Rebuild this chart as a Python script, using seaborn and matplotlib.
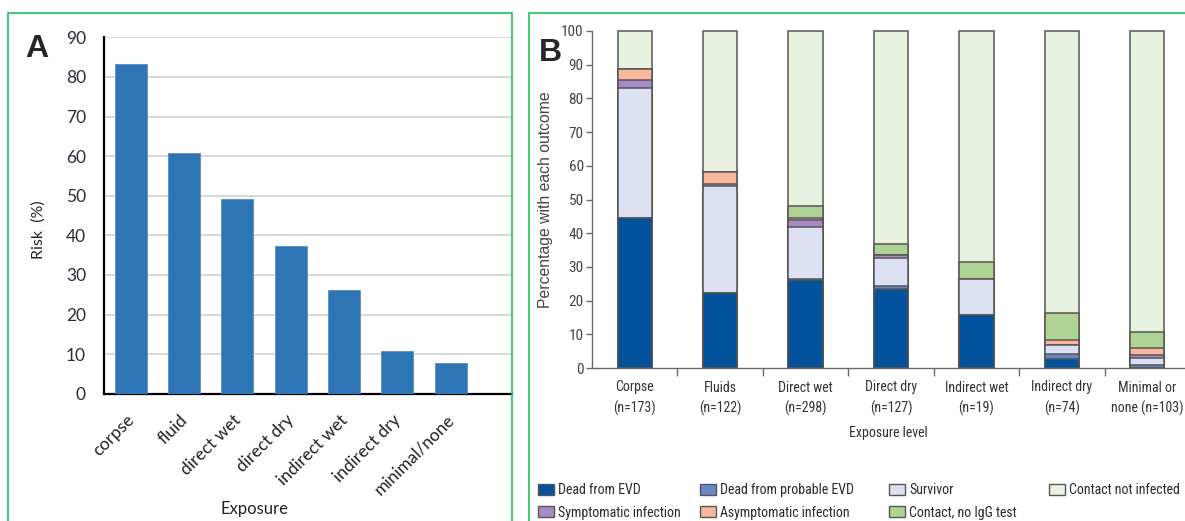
import matplotlib
matplotlib.use("Agg")
import matplotlib.pyplot as plt
from matplotlib import font_manager
from matplotlib.font_manager import FontProperties
from matplotlib.patches import Rectangle, Patch
from matplotlib.ticker import FixedLocator
from matplotlib.transforms import ScaledTranslation
import seaborn as sns
import pandas as pd

# ---------------- data ----------------
# Panel A: risk of infection by exposure type
risk_categories = ["corpse", "fluid", "direct wet", "direct dry",
                   "indirect wet", "indirect dry", "minimal/none"]
risk_values = [83.2, 60.7, 49.1, 37.4, 26.2, 10.7, 7.7]

# Panel B: outcome distribution (%) by exposure level
exposure_levels = ["Corpse\n(n=173)", "Fluids\n(n=122)", "Direct wet\n(n=298)",
                   "Direct dry\n(n=127)", "Indirect wet\n(n=19)",
                   "Indirect dry\n(n=74)", "Minimal or\nnone (n=103)"]
dead_evd        = [44.4, 22.4, 26.0, 23.4, 15.8, 2.7, 0.0]
dead_probable   = [0.0, 0.0, 0.4, 0.9, 0.0, 1.4, 1.0]
survivor        = [38.8, 31.5, 15.5, 8.3, 10.5, 2.7, 1.9]
symptomatic     = [2.4, 0.8, 2.0, 0.8, 0.0, 0.0, 1.0]
asymptomatic    = [3.2, 3.4, 0.5, 0.0, 0.0, 1.4, 1.9]
contact_no_igg  = [0.0, 0.0, 3.6, 3.5, 5.3, 8.1, 4.9]
not_infected    = [11.2, 41.9, 52.0, 63.1, 68.4, 83.7, 89.3]

outcome_names = ["Dead from EVD", "Dead from probable EVD", "Survivor",
                 "Symptomatic infection", "Asymptomatic infection",
                 "Contact, no IgG test", "Contact not infected"]
outcome_values = [dead_evd, dead_probable, survivor, symptomatic,
                  asymptomatic, contact_no_igg, not_infected]
outcome_colors = ["#02539c", "#6a86c4", "#dde0f0", "#a88bc6",
                  "#f8b89b", "#afd394", "#e9f2e1"]

# ---------------- fonts ----------------
sns.set_theme(style="white")
plt.rcParams["font.family"] = ["Lato", "DejaVu Sans"]


def find_condensed():
    """Pick an installed condensed/narrow sans face, if there is one."""
    prefs = ["Liberation Sans Narrow", "Roboto Condensed", "Open Sans Condensed",
             "Open Sans", "Noto Sans", "DejaVu Sans", "Roboto", "Lato", "Inter"]
    found = {}
    for f in font_manager.fontManager.ttflist:
        st = f.stretch
        if isinstance(st, str):
            cond = ("condensed" in st and "semi" not in st) or st == "narrow"
        else:
            cond = st <= 400
        name_cond = "Narrow" in f.name or "Condensed" in f.name
        if not (cond or name_cond):
            continue
        if f.style != "normal":
            continue
        w = f.weight
        if isinstance(w, str):
            w = {"normal": 400, "regular": 400, "book": 400}.get(w, 0)
        if w != 400:
            continue
        found.setdefault(f.name, f.fname)
    for p in prefs:
        if p in found:
            return found[p], True
    if found:
        return next(iter(found.values())), True
    return None, False


cond_file, have_cond = find_condensed()


def narrow_font(size):
    if have_cond:
        return FontProperties(fname=cond_file, size=size)
    return FontProperties(family=["Roboto", "DejaVu Sans"], size=size * 0.86)


fig = plt.figure(figsize=(11.85, 5.21), dpi=100)
W, H = 1185, 521


def axes_px(left, top, right, bottom):
    return fig.add_axes([left / W, 1 - bottom / H, (right - left) / W, (bottom - top) / H])


# ---------------- panel A ----------------
axA = axes_px(104, 37.3, 512, 393.7)
dfA = pd.DataFrame({"exposure": risk_categories, "risk": risk_values})
sns.barplot(data=dfA, x="exposure", y="risk", color="#2e75b6", saturation=1,
            width=0.6, ax=axA, zorder=3, edgecolor="#5b8fc9", linewidth=0.6)
axA.set_xlim(-0.5, 7.15)
axA.set_ylim(0, 90)
axA.set_yticks(range(0, 91, 10))
axA.yaxis.grid(True, color="#d9d9d9", linewidth=1.4, zorder=0)
axA.xaxis.grid(False)
axA.set_axisbelow(True)
for s in ["top", "right"]:
    axA.spines[s].set_visible(False)
for s in ["left", "bottom"]:
    axA.spines[s].set_color("black")
    axA.spines[s].set_linewidth(1.6)
axA.tick_params(axis="y", length=0, pad=13, labelsize=12.5, labelcolor="#2b2b3a")
axA.tick_params(axis="x", length=0, pad=13, labelsize=12.5, labelcolor="#222222")
axA.set_xticks(range(len(risk_categories)))
axA.set_xticklabels(risk_categories, rotation=45, ha="right", va="top",
                    rotation_mode="anchor")
shift = ScaledTranslation(-5 / 100, 0, fig.dpi_scale_trans)
for lab in axA.get_xticklabels():
    lab.set_transform(lab.get_transform() + shift)
axA.set_xlabel("Exposure", fontsize=12, color="#222222")
axA.xaxis.set_label_coords((255 - 104) / 408, -(501 - 393.7) / 356.4)
axA.set_ylabel("Risk  (%)", fontsize=11.5, color="#222222")
axA.yaxis.set_label_coords(-(104 - 46) / 408, (393.7 - 230) / 356.4)
fig.text(37 / W, 1 - 49 / H, "A", fontsize=23, fontweight="bold",
         family=["Liberation Sans", "DejaVu Sans"], ha="center", va="center")

# ---------------- panel B ----------------
axB = axes_px(592, 31, 1190, 368)
cumulative = []
running = [0.0] * len(exposure_levels)
for vals in outcome_values:
    running = [r + v for r, v in zip(running, vals)]
    cumulative.append(list(running))

# stacked bars: draw the tallest cumulative layer first, then overlay lower ones
for name, cum, color in reversed(list(zip(outcome_names, cumulative, outcome_colors))):
    dfB = pd.DataFrame({"level": exposure_levels, "pct": cum})
    sns.barplot(data=dfB, x="level", y="pct", color=color, saturation=1,
                width=0.4, edgecolor="#555555", linewidth=1.1, ax=axB)
for p in axB.patches:
    p.set_clip_on(False)

axB.set_xlim(-0.5, 6.5)
axB.set_ylim(0, 100)
axB.set_yticks(range(0, 101, 10))
axB.grid(False)
for s in ["top", "right"]:
    axB.spines[s].set_visible(False)
for s in ["left", "bottom"]:
    axB.spines[s].set_color("#6a6a6a")
    axB.spines[s].set_linewidth(1.0)
axB.tick_params(axis="y", direction="out", length=4, width=1.0, color="#6a6a6a",
                pad=2, labelcolor="#444444", left=True)
axB.tick_params(axis="x", which="major", length=0, pad=9, labelcolor="#333333")
axB.xaxis.set_minor_locator(FixedLocator([i + 0.5 for i in range(len(exposure_levels) - 1)]))
axB.tick_params(axis="x", which="minor", direction="out", length=6, width=1.0,
                color="#6a6a6a", bottom=True)
axB.set_xticks(range(len(exposure_levels)))
axB.set_xticklabels(exposure_levels, linespacing=1.5)
for lab in axB.get_xticklabels():
    lab.set_fontproperties(narrow_font(10))
for lab in axB.get_yticklabels():
    lab.set_fontproperties(narrow_font(11))
axB.set_xlabel("Exposure level", color="#333333", fontproperties=narrow_font(10))
axB.xaxis.set_label_coords((888 - 592) / 598, -(426 - 368) / 337)
axB.set_ylabel("Percentage with each outcome", fontsize=11.3, color="#444444",
               family=["Liberation Sans", "DejaVu Sans"])
axB.yaxis.set_label_coords(-(592 - 553) / 598, 0.5)
fig.text(550 / W, 1 - 53 / H, "B", fontsize=23, fontweight="bold",
         family=["Liberation Sans", "DejaVu Sans"], ha="center", va="center")

# legend: four columns placed at fixed horizontal positions, two rows
legend_columns = [[0, 3], [1, 4], [2, 5], [6]]
column_x = [538, 700, 889, 1049]
for idxs, cx in zip(legend_columns, column_x):
    handles = [Patch(facecolor=outcome_colors[i], edgecolor="#555555", linewidth=1.0)
               for i in idxs]
    labels = [outcome_names[i] for i in idxs]
    fig.legend(handles, labels, loc="upper left",
               bbox_to_anchor=(cx / W, 1 - 483 / H), frameon=False,
               prop=narrow_font(10), labelcolor="#2a2a2a",
               handlelength=1.15, handleheight=0.86, handletextpad=0.3,
               labelspacing=0.62, borderpad=0, borderaxespad=0)

# green panel frames
green = "#22c25a"
fig.patches.append(Rectangle((8 / W, -0.05), (512 - 8) / W, 1.05 - 12.7 / H,
                             transform=fig.transFigure, fill=False,
                             edgecolor=green, linewidth=1.2))
fig.patches.append(Rectangle((529 / W, -0.05), 1.0, 1.05 - 12.7 / H,
                             transform=fig.transFigure, fill=False,
                             edgecolor=green, linewidth=1.2))

fig.savefig("out.png", dpi=100, facecolor="white")
